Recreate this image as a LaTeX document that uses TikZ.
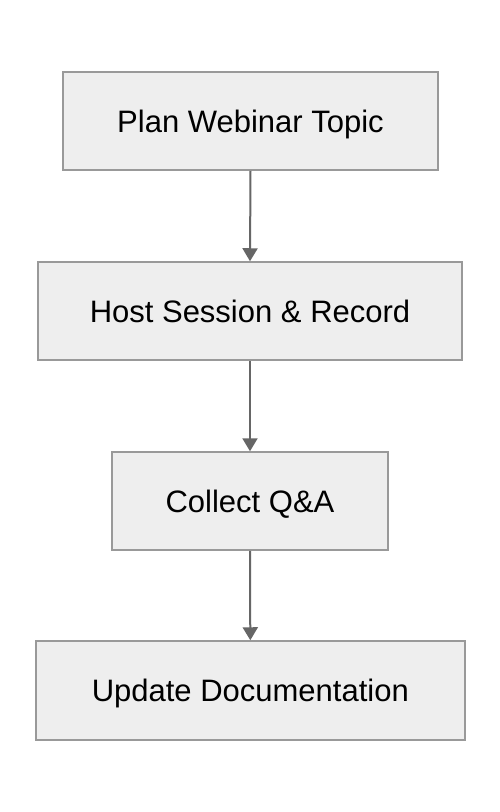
\documentclass[tikz,border=0pt]{standalone}
\usepackage{fontspec}
\setmainfont{Liberation Sans}
\usetikzlibrary{arrows.meta}
\definecolor{boxfill}{HTML}{EEEEEE}
\definecolor{boxline}{HTML}{999999}
\definecolor{arrowcol}{HTML}{666666}
\begin{document}
\begin{tikzpicture}[x=1pt,y=-1pt,
  stepbox/.style={draw=boxline,fill=boxfill,line width=1.5pt,inner sep=0pt,
    font=\fontsize{31}{36}\selectfont,text=black,text height=22.2pt,text depth=0pt},
  flow/.style={draw=arrowcol,line width=2pt,-{Triangle[length=13pt,width=15pt]}}]
\useasboundingbox (0,0) rectangle (500,812);
\fill[white] (0,0) rectangle (500,812);
\node[stepbox,minimum width=375pt,minimum height=98pt] (a) at (250.5,121) {Plan Webinar Topic};
\node[stepbox,minimum width=424pt,minimum height=98pt] (b) at (250,311) {Host Session \& Record};
\node[stepbox,minimum width=276pt,minimum height=98pt] (c) at (250,501) {Collect Q\&A};
\node[stepbox,minimum width=429pt,minimum height=99pt] (d) at (250.3,690.5) {Update Documentation};
\draw[flow] (a.south) -- (b.north);
\draw[flow] (b.south) -- (c.north);
\draw[flow] (c.south) -- (d.north);
\end{tikzpicture}
\end{document}
